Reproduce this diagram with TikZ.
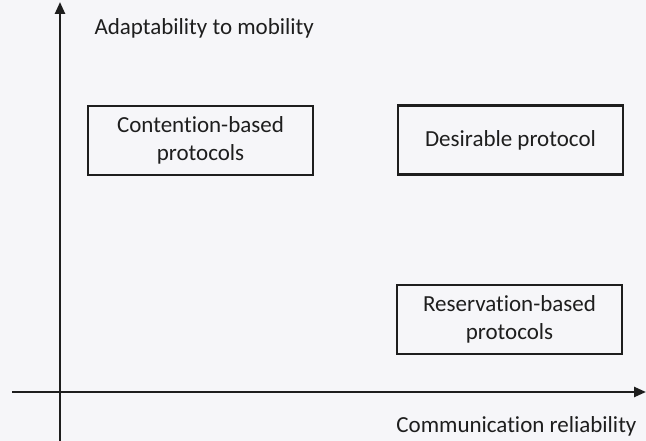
\documentclass[tikz,border=0pt]{standalone}
\usepackage{fontspec}
\setmainfont[Ligatures={NoCommon}]{Carlito}
\usetikzlibrary{arrows.meta}
\definecolor{paper}{RGB}{246,246,249}
\definecolor{ink}{RGB}{30,30,30}
\tikzset{
  axis/.style={draw=ink, line width=2.4pt, -{Triangle[length=12pt,width=10pt]}},
  quad/.style={draw=ink, line width=2.6pt, minimum width=225pt, minimum height=69pt,
    align=center, text=ink, font=\fontsize{23}{27.5}\selectfont},
  axislabel/.style={text=ink, font=\fontsize{23}{27.5}\selectfont}
}
\begin{document}
\begin{tikzpicture}[x=1pt,y=-1pt]
  \fill[paper] (0,0) rectangle (646,441);
  \useasboundingbox (0,0) rectangle (646,441);
  % axes
  \coordinate (ybot) at (60,441);
  \coordinate (ytop) at (60,2);
  \coordinate (xleft) at (12,392);
  \coordinate (xright) at (646,392);
  \draw[axis] (ybot) -- (ytop);
  \draw[axis] (xleft) -- (xright);
  % axis labels
  \node[axislabel, anchor=west] (ylab) at (91,28) {Adaptability to mobility};
  \node[axislabel, anchor=east] (xlab) at (640,426) {Communication reliability};
  % quadrant boxes
  \node[quad] (cont) at (200.5,140.5) {Contention-based\\protocols};
  \node[quad] (des) at (510.5,140) {Desirable protocol};
  \node[quad] (res) at (509.5,319.5) {Reservation-based\\protocols};
\end{tikzpicture}
\end{document}
